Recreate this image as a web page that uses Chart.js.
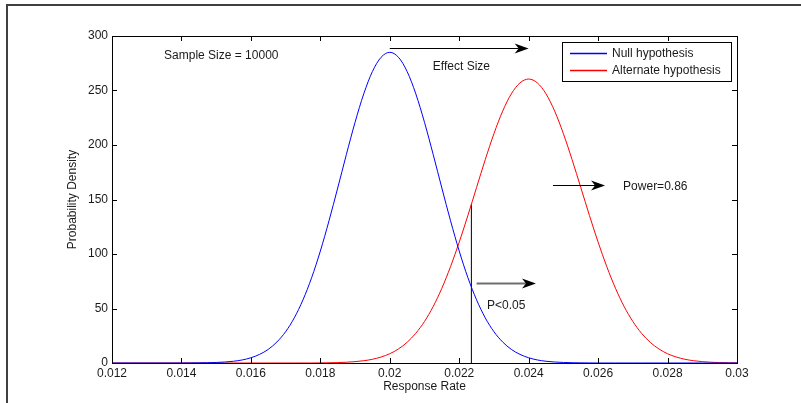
<!DOCTYPE html>
<html>
<head>
<meta charset="utf-8">
<title>Response Rate</title>
<script src="https://cdn.jsdelivr.net/npm/chart.js@4/dist/chart.umd.min.js"></script>
<style>
	html, body { margin: 0; padding: 0; background: #fff; }
	#wrap { position: relative; width: 801px; height: 403px; }
</style>
</head>
<body>
<div id="wrap"><canvas id="chart"></canvas></div>
<script>
// ─── Data ───
var responseRates = [
	0.012, 0.01225, 0.0125, 0.01275, 0.013, 0.01325, 0.0135, 0.01375,
	0.014, 0.01425, 0.0145, 0.01475, 0.015, 0.01525, 0.0155, 0.01575,
	0.016, 0.01625, 0.0165, 0.01675, 0.017, 0.01725, 0.0175, 0.01775,
	0.018, 0.01825, 0.0185, 0.01875, 0.019, 0.01925, 0.0195, 0.01975,
	0.02, 0.02025, 0.0205, 0.02075, 0.021, 0.02125, 0.0215, 0.02175,
	0.022, 0.02225, 0.0225, 0.02275, 0.023, 0.02325, 0.0235, 0.02375,
	0.024, 0.02425, 0.0245, 0.02475, 0.025, 0.02525, 0.0255, 0.02575,
	0.026, 0.02625, 0.0265, 0.02675, 0.027, 0.02725, 0.0275, 0.02775,
	0.028, 0.02825, 0.0285, 0.02875, 0.029, 0.02925, 0.0295, 0.02975,
	0.03
];

var nullDensity = [
	0, 0, 0, 0, 0, 0, 0, 0,
	0, 0.05, 0.13, 0.25, 0.5, 0.9, 1.6, 2.8,
	4.8, 7.9, 12.5, 19.3, 28.7, 41.4, 57.9, 78.3,
	102.7, 130.5, 160.5, 191.3, 220.8, 246.9, 267.4, 280.5,
	285, 280.5, 267.4, 246.9, 220.8, 191.3, 160.5, 130.5,
	102.7, 78.3, 57.9, 41.4, 28.7, 19.3, 12.5, 7.9,
	4.8, 2.8, 1.6, 0.9, 0.5, 0.25, 0.13, 0.05,
	0, 0, 0, 0, 0, 0, 0, 0,
	0, 0, 0, 0, 0, 0, 0, 0,
	0
];

var altDensity = [
	0, 0, 0, 0, 0, 0, 0, 0,
	0, 0, 0, 0, 0, 0, 0, 0,
	0, 0, 0, 0, 0, 0, 0, 0,
	0.1, 0.2, 0.4, 0.7, 1.25, 2.1, 3.4, 5.5,
	8.5, 12.9, 19.0, 27.3, 38.1, 51.8, 68.6, 88.4,
	110.9, 135.4, 161.1, 186.6, 210.4, 231.0, 246.9, 257.0,
	260.5, 257.0, 246.9, 231.0, 210.4, 186.6, 161.1, 135.4,
	110.9, 88.4, 68.6, 51.8, 38.1, 27.3, 19.0, 12.9,
	8.5, 5.5, 3.4, 2.1, 1.25, 0.7, 0.4, 0.2,
	0.1
];

// critical value of the one-sided test and the alternate density there
var cutoffRate = 0.02235;
var cutoffDensity = 145.5;

var seriesLabels = ['Null hypothesis', 'Alternate hypothesis'];
var xTicks = [0.012, 0.014, 0.016, 0.018, 0.02, 0.022, 0.024, 0.026, 0.028, 0.03];
var yTicks = [0, 50, 100, 150, 200, 250, 300];

// arrows: [x from, x to, y]
var arrows = [
	[0.02, 0.024, 289],
	[0.0247, 0.0262, 163],
	[0.0225, 0.02421, 73]
];
// text notes: [text, x, y]
var notes = [
	['Sample Size = 10000', 0.0135, 282],
	['Effect Size', 0.02124, 272],
	['Power=0.86', 0.02672, 161.5],
	['P<0.05', 0.0228, 52.5]
];

(function () {
	'use strict';

	var FONT = "'Liberation Sans', Arial, sans-serif";
	var colors = {
		nullLine: '#0000ff',
		altLine: '#ff0000',
		ink: '#000000',
		text: '#1a1a1a',
		frame: '#404040',
		arrowGray: '#6e6e6e'
	};

	function toPoints(xs, ys) {
		return xs.map(function (x, i) { return { x: x, y: ys[i] }; });
	}

	function drawArrow(ctx, x1, x2, y, color, width) {
		var head = 14;
		var half = 5;
		var notch = 4;
		ctx.save();
		ctx.strokeStyle = color;
		ctx.lineWidth = width;
		ctx.beginPath();
		ctx.moveTo(x1, y);
		ctx.lineTo(x2 - head + notch, y);
		ctx.stroke();
		ctx.fillStyle = colors.ink;
		ctx.beginPath();
		ctx.moveTo(x2, y);
		ctx.lineTo(x2 - head, y - half);
		ctx.lineTo(x2 - head + notch, y);
		ctx.lineTo(x2 - head, y + half);
		ctx.closePath();
		ctx.fill();
		ctx.restore();
	}

	// ─── Box, inward ticks, notes, legend and titles ───
	var decorations = {
		id: 'decorations',
		afterDraw: function (chart) {
			var ctx = chart.ctx;
			var area = chart.chartArea;
			var xs = chart.scales.x;
			var ys = chart.scales.y;
			var tick = 5;

			ctx.save();

			// outer figure frame
			ctx.fillStyle = colors.frame;
			ctx.fillRect(6, 4, 2, chart.height - 4);
			ctx.fillRect(6, 4, chart.width - 6, 2);

			// axes box
			ctx.strokeStyle = colors.ink;
			ctx.lineWidth = 1;
			ctx.strokeRect(Math.round(area.left) + 0.5, Math.round(area.top) + 0.5,
				Math.round(area.right - area.left), Math.round(area.bottom - area.top));

			ctx.beginPath();
			xTicks.forEach(function (v) {
				var px = Math.round(xs.getPixelForValue(v)) + 0.5;
				ctx.moveTo(px, area.bottom);
				ctx.lineTo(px, area.bottom - tick);
				ctx.moveTo(px, area.top);
				ctx.lineTo(px, area.top + tick);
			});
			yTicks.forEach(function (v) {
				var py = Math.round(ys.getPixelForValue(v)) + 0.5;
				ctx.moveTo(area.left, py);
				ctx.lineTo(area.left + tick, py);
				ctx.moveTo(area.right, py);
				ctx.lineTo(area.right - tick, py);
			});
			ctx.stroke();

			// arrows
			arrows.forEach(function (a, i) {
				var y = Math.round(ys.getPixelForValue(a[2])) + 0.5;
				drawArrow(ctx, xs.getPixelForValue(a[0]), xs.getPixelForValue(a[1]), y,
					i === 2 ? colors.arrowGray : colors.ink, i === 2 ? 2 : 1);
			});

			// notes
			ctx.fillStyle = colors.text;
			ctx.font = '12px ' + FONT;
			ctx.textAlign = 'left';
			ctx.textBaseline = 'middle';
			notes.forEach(function (n) {
				ctx.fillText(n[0], xs.getPixelForValue(n[1]), ys.getPixelForValue(n[2]));
			});

			// legend
			var lx = 562, ly = 42, lw = 169, lh = 39;
			ctx.fillStyle = '#ffffff';
			ctx.fillRect(lx, ly, lw, lh);
			ctx.strokeStyle = colors.ink;
			ctx.strokeRect(lx + 0.5, ly + 0.5, lw, lh);
			chart.data.datasets.slice(0, 2).forEach(function (ds, i) {
				var y = ly + 11 + i * 17;
				ctx.strokeStyle = ds.borderColor;
				ctx.lineWidth = 1.5;
				ctx.beginPath();
				ctx.moveTo(lx + 8, y + 0.5);
				ctx.lineTo(lx + 45, y + 0.5);
				ctx.stroke();
				ctx.fillStyle = colors.text;
				ctx.fillText(ds.label, lx + 50, y + 1);
			});

			// axis titles
			ctx.textAlign = 'center';
			ctx.fillText('Response Rate', (area.left + area.right) / 2, 387);
			ctx.translate(73, (area.top + area.bottom) / 2);
			ctx.rotate(-Math.PI / 2);
			ctx.fillText('Probability Density', 0, 0);

			ctx.restore();
		}
	};

	var ctx = document.getElementById('chart').getContext('2d');

	new Chart(ctx, {
		type: 'line',
		data: {
			datasets: [
				{
					label: seriesLabels[0],
					data: toPoints(responseRates, nullDensity),
					borderColor: colors.nullLine,
					borderWidth: 1,
					pointRadius: 0,
					cubicInterpolationMode: 'monotone',
					clip: 2
				},
				{
					label: seriesLabels[1],
					data: toPoints(responseRates, altDensity),
					borderColor: colors.altLine,
					borderWidth: 1,
					pointRadius: 0,
					cubicInterpolationMode: 'monotone',
					clip: 2
				},
				{
					label: 'cutoff',
					data: [{ x: cutoffRate, y: 0 }, { x: cutoffRate, y: cutoffDensity }],
					borderColor: colors.ink,
					borderWidth: 1,
					pointRadius: 0,
					clip: 2
				}
			]
		},
		options: {
			responsive: true,
			maintainAspectRatio: false,
			animation: false,
			events: [],
			layout: { padding: { top: 36, right: 64, left: 0, bottom: 0 } },
			plugins: {
				legend: { display: false },
				tooltip: { enabled: false }
			},
			scales: {
				x: {
					type: 'linear',
					min: 0.012,
					max: 0.03,
					afterFit: function (s) { s.height = 40; },
					afterBuildTicks: function (s) {
						s.ticks = xTicks.map(function (v) { return { value: v }; });
					},
					grid: { display: false, drawTicks: false },
					border: { display: false },
					ticks: {
						autoSkip: false,
						maxRotation: 0,
						padding: 3,
						color: colors.text,
						font: { family: FONT, size: 12 },
						callback: function (v) { return String(+v.toFixed(3)); }
					}
				},
				y: {
					min: 0,
					max: 300,
					afterFit: function (s) { s.width = 112; },
					afterBuildTicks: function (s) {
						s.ticks = yTicks.map(function (v) { return { value: v }; });
					},
					grid: { display: false, drawTicks: false },
					border: { display: false },
					ticks: {
						padding: 4,
						color: colors.text,
						font: { family: FONT, size: 12 }
					}
				}
			}
		},
		plugins: [decorations]
	});
})();
</script>
</body>
</html>
